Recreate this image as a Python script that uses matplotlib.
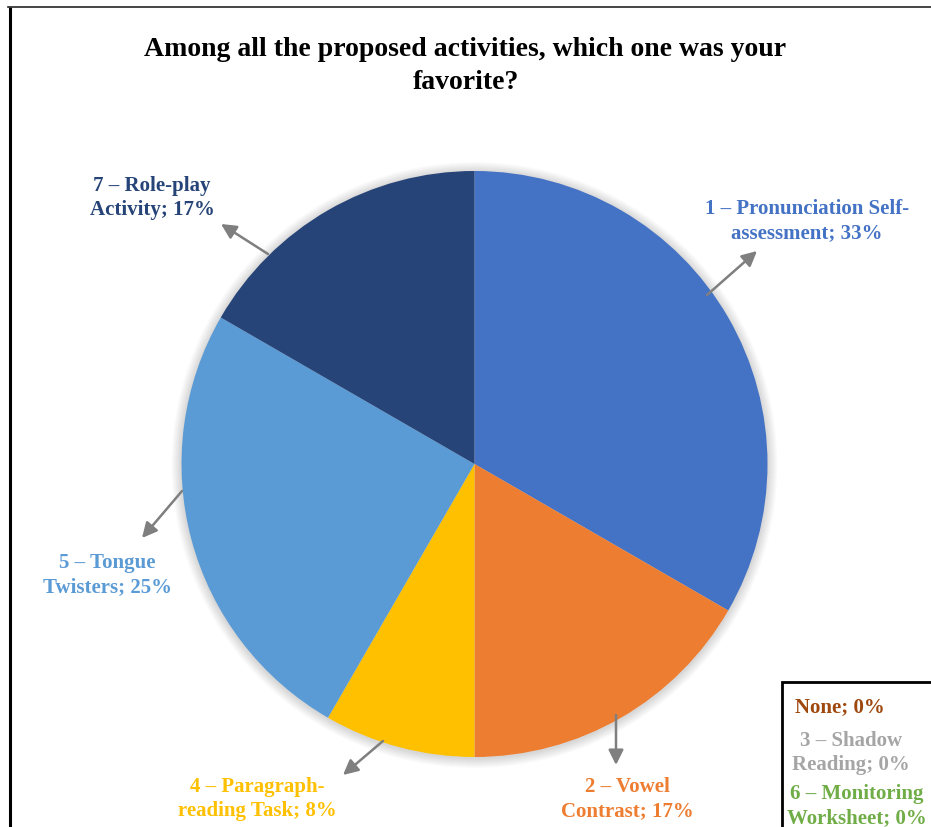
import matplotlib
matplotlib.use("Agg")
import matplotlib.pyplot as plt
from matplotlib.patches import Circle, Rectangle

# survey answers (12 respondents)
categories = [
    "1 – Pronunciation Self-\nassessment",
    "2 – Vowel\nContrast",
    "3 – Shadow\nReading",
    "4 – Paragraph-\nreading Task",
    "5 – Tongue\nTwisters",
    "6 – Monitoring\nWorksheet",
    "7 – Role-play\nActivity",
    "None",
]
counts = [4, 2, 0, 1, 3, 0, 2, 0]
colors = ["#4472C4", "#ED7D31", "#A5A5A5", "#FFC000",
          "#5B9BD5", "#70AD47", "#264478", "#9E480E"]

title = "Among all the proposed activities, which one was your\nfavorite?"

W, H = 931, 828
CX, CY, R = 474.5, 465, 293


def px(x, y):
    # pixel coords (origin top-left) -> axes data coords
    return x, H - y


# label centre, arrow tail, arrow head (pixels); None = no arrow
label_layout = [
    ((807, 221), (707, 296), (757, 252)),
    ((627, 799), (616, 716), (616, 766)),
    ((851, 753), None, None),
    ((257, 799), (383, 742), (343, 776)),
    ((107, 575), (182, 492), (142, 539)),
    ((857, 806), None, None),
    ((152, 198), (268, 255), (221, 225)),
    ((840, 707), None, None),
]

total = sum(counts)
pcts = [round(100 * c / total) for c in counts]

fig = plt.figure(figsize=(W / 100, H / 100), dpi=100)
ax = fig.add_axes([0, 0, 1, 1])

# soft shadow around the pie
for k in range(10, 0, -1):
    ax.add_patch(Circle(px(CX, CY + 1), R + k, color="#000000", alpha=0.014, lw=0, zorder=0))

ax.pie(counts, colors=colors, startangle=90, counterclock=False,
       center=px(CX, CY), radius=R, wedgeprops=dict(linewidth=0))

ax.set_xlim(0, W)
ax.set_ylim(0, H)
ax.set_aspect("equal")
ax.axis("off")

font = dict(family="Liberation Serif", weight="bold")

ax.text(*px(W / 2, 66), title, ha="center", va="center", fontsize=20,
        linespacing=1.4, color="black", **font)

for cat, pct, col, (pos, tail, head) in zip(categories, pcts, colors, label_layout):
    ax.text(*px(*pos), f"{cat}; {pct}%", ha="center", va="center",
            fontsize=15, color=col, linespacing=1.27, **font)
    if tail is not None:
        ax.annotate("", xy=px(*head), xytext=px(*tail),
                    arrowprops=dict(arrowstyle="-|>,head_length=0.6,head_width=0.3",
                                    color="#7F7F7F", lw=1.8, mutation_scale=15,
                                    shrinkA=0, shrinkB=0))

# box around the zero-value labels
ax.add_patch(Rectangle(px(782, 840), 200, 840 - 683, fill=False,
                       edgecolor="black", lw=2))

# outer frame (left and top edges)
ax.plot([9.5, 9.5], [0, H - 8], color="black", lw=2.2, solid_capstyle="butt")
ax.plot([8, W], [H - 8, H - 8], color="#262626", lw=1.2)

fig.savefig("out.png", dpi=100)
